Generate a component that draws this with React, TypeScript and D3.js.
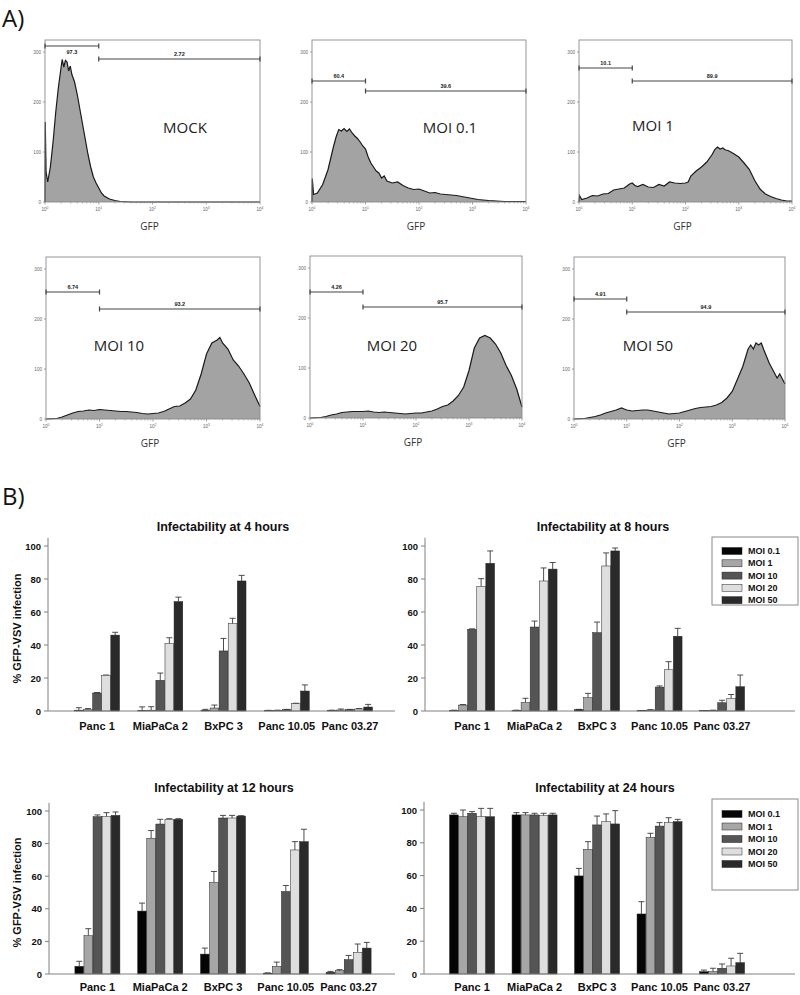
import React from "react";
import * as d3 from "d3";

// ---------- Panel A: flow cytometry histograms (log10 GFP, count) ----------
const histNames = ["MOCK", "MOI 0.1", "MOI 1", "MOI 10", "MOI 20", "MOI 50"];

const histMock: [number, number][] = [
  [0, 0], [0.005, 160], [0.02, 60], [0.05, 40], [0.1, 70], [0.15, 120], [0.2, 180], [0.25, 230],
  [0.3, 270], [0.32, 285], [0.35, 270], [0.38, 283], [0.41, 280], [0.44, 262], [0.47, 272],
  [0.5, 255], [0.55, 240], [0.6, 215], [0.65, 185], [0.7, 155], [0.75, 125], [0.8, 95],
  [0.85, 70], [0.9, 50], [0.95, 38], [1.0, 28], [1.05, 18], [1.1, 12], [1.2, 6], [1.3, 3],
  [1.4, 1], [1.6, 0], [4, 0],
];
const histMoi01: [number, number][] = [
  [0, 0], [0.005, 47], [0.03, 15], [0.1, 18], [0.2, 35], [0.3, 65], [0.4, 110], [0.45, 130],
  [0.5, 145], [0.55, 142], [0.6, 147], [0.65, 141], [0.7, 146], [0.75, 138], [0.8, 132],
  [0.85, 127], [0.9, 120], [0.95, 112], [1.0, 106], [1.05, 90], [1.1, 78], [1.15, 70],
  [1.2, 62], [1.25, 58], [1.3, 48], [1.35, 52], [1.4, 42], [1.5, 38], [1.6, 40], [1.7, 33],
  [1.8, 28], [1.9, 25], [2.0, 26], [2.1, 22], [2.2, 18], [2.3, 19], [2.4, 16], [2.5, 15],
  [2.7, 13], [2.9, 9], [3.1, 5], [3.3, 3], [3.6, 1], [4, 1],
];
const histMoi1: [number, number][] = [
  [0, 0], [0.01, 13], [0.05, 5], [0.15, 8], [0.25, 13], [0.35, 12], [0.45, 16], [0.55, 17],
  [0.65, 24], [0.75, 26], [0.85, 28], [0.95, 36], [1.0, 38], [1.05, 33], [1.1, 31], [1.2, 35],
  [1.3, 30], [1.4, 29], [1.5, 35], [1.6, 32], [1.7, 40], [1.8, 38], [1.9, 37], [2.0, 38],
  [2.05, 40], [2.1, 52], [2.2, 62], [2.3, 70], [2.4, 80], [2.5, 95], [2.55, 105], [2.6, 110],
  [2.65, 106], [2.7, 108], [2.75, 104], [2.8, 103], [2.9, 97], [3.0, 90], [3.1, 78], [3.2, 65],
  [3.3, 43], [3.4, 26], [3.5, 16], [3.6, 11], [3.7, 7], [3.8, 4], [3.9, 2], [4.0, 2],
];
const histMoi10: [number, number][] = [
  [0, 0], [0.2, 1], [0.3, 4], [0.4, 8], [0.5, 12], [0.6, 15], [0.7, 16], [0.8, 18], [0.9, 17],
  [1.0, 19], [1.1, 18], [1.2, 17], [1.3, 16], [1.4, 15], [1.5, 15], [1.6, 14], [1.7, 13],
  [1.8, 11], [1.9, 10], [2.0, 11], [2.1, 12], [2.2, 15], [2.3, 20], [2.4, 25], [2.5, 26],
  [2.6, 32], [2.7, 40], [2.8, 58], [2.9, 90], [3.0, 130], [3.1, 152], [3.2, 158], [3.25, 163],
  [3.3, 152], [3.4, 140], [3.5, 118], [3.6, 106], [3.7, 90], [3.8, 72], [3.9, 48], [4.0, 25],
];
const histMoi20: [number, number][] = [
  [0, 0], [0.2, 1], [0.3, 3], [0.4, 6], [0.5, 8], [0.6, 11], [0.7, 12], [0.8, 13], [0.9, 13],
  [1.0, 13], [1.1, 14], [1.2, 12], [1.3, 11], [1.4, 12], [1.5, 11], [1.6, 10], [1.7, 9],
  [1.8, 8], [1.9, 9], [2.0, 10], [2.1, 10], [2.2, 12], [2.3, 14], [2.4, 18], [2.5, 23],
  [2.6, 26], [2.7, 34], [2.8, 45], [2.9, 62], [3.0, 95], [3.1, 140], [3.2, 160], [3.3, 165],
  [3.4, 160], [3.5, 148], [3.6, 130], [3.7, 105], [3.8, 85], [3.9, 58], [3.95, 40], [4.0, 22],
];
const histMoi50: [number, number][] = [
  [0, 0], [0.2, 1], [0.3, 3], [0.4, 5], [0.5, 8], [0.6, 12], [0.7, 15], [0.8, 18], [0.9, 22],
  [0.95, 20], [1.0, 18], [1.1, 16], [1.2, 17], [1.3, 18], [1.4, 18], [1.5, 16], [1.6, 14],
  [1.7, 12], [1.8, 10], [1.9, 11], [2.0, 12], [2.1, 15], [2.2, 18], [2.3, 21], [2.4, 23],
  [2.5, 24], [2.6, 25], [2.7, 28], [2.8, 33], [2.9, 42], [3.0, 55], [3.1, 80], [3.2, 105],
  [3.3, 140], [3.35, 148], [3.4, 140], [3.45, 152], [3.5, 148], [3.55, 152], [3.6, 138],
  [3.7, 112], [3.8, 92], [3.85, 82], [3.9, 90], [3.95, 80], [4.0, 70],
];
const histSeries = [histMock, histMoi01, histMoi1, histMoi10, histMoi20, histMoi50];

// gate marker levels (in count units) and their percentages
const gateLevelNeg = [312, 242, 268, 254, 252, 240];
const gateLevelPos = [286, 222, 242, 220, 222, 214];
const gatePctNeg = ["97.3", "60.4", "10.1", "6.74", "4.26", "4.91"];
const gatePctPos = ["2.72", "39.6", "89.9", "93.2", "95.7", "94.9"];
const histYTicks = [0, 100, 200, 300];
const histXTicks = [0, 1, 2, 3, 4];

// ---------- Panel B: bar charts ----------
const categories = ["Panc 1", "MiaPaCa 2", "BxPC 3", "Panc 10.05", "Panc 03.27"];
const seriesNames = ["MOI 0.1", "MOI 1", "MOI 10", "MOI 20", "MOI 50"];
const seriesColors = ["#050505", "#a6a6a6", "#555555", "#dedede", "#2a2a2a"];
const barYTicks = [0, 20, 40, 60, 80, 100];

// rows = series (MOI 0.1 .. MOI 50), columns = categories
const values4h = [
  [0.5, 0.3, 0.5, 0.2, 0.3],
  [0.8, 0.5, 1.8, 0.3, 0.6],
  [10.9, 18.6, 36.4, 0.8, 0.8],
  [21.6, 40.8, 52.9, 4.4, 1.2],
  [46, 66.3, 78.8, 12.1, 2.4],
];
const errTop4h = [
  [2, 2.5, 1, 0.4, 0.5],
  [1.5, 2.6, 3.6, 0.5, 1.2],
  [11.2, 23, 44, 1, 1],
  [21.8, 44.4, 56.2, 4.7, 1.5],
  [47.7, 69, 82.2, 15.8, 4.0],
];
const values8h = [
  [0.3, 0.3, 0.8, 0.2, 0.2],
  [3.6, 5.1, 8.1, 0.6, 0.3],
  [49.5, 50.9, 47.5, 14.5, 5],
  [75.5, 78.8, 87.9, 25, 7.5],
  [89.5, 86, 97, 45.3, 14.7],
];
const errTop8h = [
  [0.5, 0.5, 1, 0.3, 0.3],
  [3.9, 7.7, 10.7, 0.8, 0.5],
  [49.8, 54.5, 53.9, 15.2, 6.5],
  [80.2, 86.7, 95.8, 29.9, 10],
  [97, 90, 98.8, 50.1, 21.8],
];
const values12h = [
  [4.7, 38.6, 12.2, 0.5, 1],
  [23.5, 83.3, 56.1, 4.7, 2],
  [96.5, 92, 95.7, 50.6, 8.8],
  [96.5, 94.9, 95.7, 76.1, 13.3],
  [97.3, 94.9, 96.9, 81.2, 15.9],
];
const errTop12h = [
  [7.8, 43.5, 15.9, 0.7, 1.6],
  [27.8, 88, 62.9, 7.3, 2.7],
  [97.6, 94.9, 97.3, 54.3, 11.4],
  [99, 95.3, 97.3, 81.2, 18.4],
  [99.4, 95.3, 97.1, 88.8, 19.4],
];
const values24h = [
  [97, 97, 59.8, 36.6, 1.4],
  [95.9, 97, 76, 83.3, 1.4],
  [98, 97, 90.9, 90.2, 3.5],
  [95.9, 96.5, 92.9, 92.3, 4.9],
  [95.9, 97, 91.5, 92.9, 6.9],
];
const errTop24h = [
  [98, 98.4, 64.4, 44.1, 2.4],
  [100, 98.4, 80.7, 85.8, 3.5],
  [99, 98, 96.3, 92.3, 6.1],
  [101, 98, 97.6, 95.3, 9.6],
  [101, 98, 99.6, 94.3, 12.6],
];

// ---------- layout ----------
const histLayout = [
  { left: 45, right: 260, base: 202, lx: 185, ly: 127, negBelow: true },
  { left: 312, right: 526, base: 202, lx: 450, ly: 127, negBelow: false },
  { left: 579, right: 792, base: 202, lx: 653, ly: 125, negBelow: false },
  { left: 46, right: 260, base: 419, lx: 119, ly: 345, negBelow: false },
  { left: 310, right: 522, base: 418, lx: 392, ly: 345, negBelow: false },
  { left: 574, right: 785, base: 419, lx: 648, ly: 345, negBelow: false },
];

const barLayouts = [
  { title: "Infectability at 4 hours", values: values4h, errs: errTop4h, axisX: 48, xEnd: 395, y0: 711, y100: 546, band: [65.4, 381.6], titleX: 223, titleY: 527, catY: 726, yLabel: true, legend: null as any },
  { title: "Infectability at 8 hours", values: values8h, errs: errTop8h, axisX: 425, xEnd: 795, y0: 711, y100: 546, band: [440.8, 753.3], titleX: 603, titleY: 527, catY: 726, yLabel: false, legend: { x: 712, y: 537, w: 86, h: 68, first: 551, step: 12.3 } },
  { title: "Infectability at 12 hours", values: values12h, errs: errTop12h, axisX: 49, xEnd: 395, y0: 974, y100: 811, band: [66, 380], titleX: 224, titleY: 788, catY: 987, yLabel: true, legend: null as any },
  { title: "Infectability at 24 hours", values: values24h, errs: errTop24h, axisX: 424, xEnd: 795, y0: 974, y100: 810, band: [440.8, 753.3], titleX: 605, titleY: 788, catY: 987, yLabel: false, legend: { x: 712, y: 799, w: 86, h: 91, first: 814, step: 12.5 } },
];

const SANS = "'Liberation Sans', Arial, sans-serif";
const OPEN = "'Open Sans', 'DejaVu Sans', sans-serif";

function Histogram({ i }: { i: number }) {
  const L = histLayout[i];
  const x = d3.scaleLinear().domain([0, 4]).range([L.left, L.right]);
  const y = d3.scaleLinear().domain([0, 324]).range([L.base, L.base - 162]);
  const data = histSeries[i];
  const area = d3.area<[number, number]>().x((d) => x(d[0])).y0(y(0)).y1((d) => y(d[1]));
  const line = d3.line<[number, number]>().x((d) => x(d[0])).y((d) => y(d[1]));
  const minor: number[] = [];
  for (let k = 0; k < 4; k++) for (let m = 2; m <= 9; m++) minor.push(k + Math.log10(m));
  const gNeg = y(gateLevelNeg[i]);
  const gPos = y(gateLevelPos[i]);
  const axisCol = "#8a8a8a";
  return (
    <g>
      <path d={area(data) || ""} fill="#a3a3a3" stroke="none" />
      <path d={line(data) || ""} fill="none" stroke="#1a1a1a" strokeWidth={1.2} />
      <rect x={L.left} y={y(324)} width={L.right - L.left} height={y(0) - y(324)} fill="none" stroke={axisCol} strokeWidth={0.9} />
      {histYTicks.map((t) => (
        <g key={t}>
          <line x1={L.left - 2} x2={L.left} y1={y(t)} y2={y(t)} stroke={axisCol} strokeWidth={0.8} />
          <text x={L.left - 4} y={y(t)} fontSize={4.6} fill="#666" textAnchor="end" dominantBaseline="central" fontFamily={SANS}>{t}</text>
        </g>
      ))}
      {histXTicks.map((t) => (
        <g key={t}>
          <line x1={x(t)} x2={x(t)} y1={y(0)} y2={y(0) + 2.5} stroke={axisCol} strokeWidth={0.8} />
          <text x={x(t)} y={y(0) + 9} fontSize={4.6} fill="#666" textAnchor="middle" fontFamily={SANS}>
            10<tspan dy={-2} fontSize={3.4}>{t}</tspan>
          </text>
        </g>
      ))}
      {minor.map((t, k) => (
        <line key={k} x1={x(t)} x2={x(t)} y1={y(0)} y2={y(0) + 1.5} stroke={axisCol} strokeWidth={0.6} />
      ))}
      {/* gates */}
      <g stroke="#444" strokeWidth={1.2}>
        <line x1={x(0)} x2={x(1)} y1={gNeg} y2={gNeg} />
        <line x1={x(0)} x2={x(0)} y1={gNeg - 2.5} y2={gNeg + 2.5} />
        <line x1={x(1)} x2={x(1)} y1={gNeg - 2.5} y2={gNeg + 2.5} />
        <line x1={x(1)} x2={x(4)} y1={gPos} y2={gPos} />
        <line x1={x(1)} x2={x(1)} y1={gPos - 2.5} y2={gPos + 2.5} />
        <line x1={x(4)} x2={x(4)} y1={gPos - 2.5} y2={gPos + 2.5} />
      </g>
      <text x={x(0.5)} y={L.negBelow ? gNeg + 8 : gNeg - 3} fontSize={5.5} fontWeight="bold" textAnchor="middle" fill="#222" fontFamily={SANS}>{gatePctNeg[i]}</text>
      <text x={x(2.5)} y={gPos - 3} fontSize={5.5} fontWeight="bold" textAnchor="middle" fill="#222" fontFamily={SANS}>{gatePctPos[i]}</text>
      <text x={(L.left + L.right) / 2 - 3} y={L.base + 24} fontSize={10} textAnchor="middle" dominantBaseline="central" fill="#333" fontFamily={OPEN}>GFP</text>
      <text x={L.lx} y={L.ly} fontSize={15} textAnchor="middle" dominantBaseline="central" fill="#222" fontFamily={OPEN}>{histNames[i]}</text>
    </g>
  );
}

function BarChart({ cfg }: { cfg: (typeof barLayouts)[number] }) {
  const y = d3.scaleLinear().domain([0, 100]).range([cfg.y0, cfg.y100]);
  const xb = d3.scaleBand<string>().domain(categories).range(cfg.band as [number, number]).paddingInner(0);
  const groupW = 45;
  const xs = d3.scaleBand<string>().domain(seriesNames).range([0, groupW]).paddingInner(0.04);
  const axisCol = "#808080";
  return (
    <g>
      <text x={cfg.titleX} y={cfg.titleY} fontSize={12.5} fontWeight="bold" textAnchor="middle" dominantBaseline="central" fill="#111" fontFamily={SANS}>{cfg.title}</text>
      {seriesNames.map((s, si) =>
        categories.map((c, ci) => {
          const gx = (xb(c) as number) + xb.bandwidth() / 2 - groupW / 2;
          const bx = gx + (xs(s) as number);
          const v = cfg.values[si][ci];
          const e = cfg.errs[si][ci];
          const cx = bx + xs.bandwidth() / 2;
          return (
            <g key={s + c}>
              {e > v + 0.05 && (
                <g stroke="#3a3a3a" strokeWidth={0.9}>
                  <line x1={cx} x2={cx} y1={y(v)} y2={y(e)} />
                  <line x1={cx - 3} x2={cx + 3} y1={y(e)} y2={y(e)} />
                </g>
              )}
              <rect x={bx} y={y(v)} width={xs.bandwidth()} height={Math.max(0, y(0) - y(v))} fill={seriesColors[si]} stroke="#222" strokeWidth={0.5} />
            </g>
          );
        })
      )}
      <line x1={cfg.axisX} x2={cfg.axisX} y1={y(105)} y2={y(0)} stroke={axisCol} strokeWidth={1} />
      <line x1={cfg.axisX} x2={cfg.xEnd} y1={y(0)} y2={y(0)} stroke={axisCol} strokeWidth={1} />
      {barYTicks.map((t) => (
        <g key={t}>
          <line x1={cfg.axisX - 4} x2={cfg.axisX} y1={y(t)} y2={y(t)} stroke={axisCol} strokeWidth={1} />
          <text x={cfg.axisX - 7} y={y(t)} fontSize={9.5} fontWeight="bold" textAnchor="end" dominantBaseline="central" fill="#111" fontFamily={SANS}>{t}</text>
        </g>
      ))}
      {categories.map((c) => (
        <text key={c} x={(xb(c) as number) + xb.bandwidth() / 2} y={cfg.catY} fontSize={11} fontWeight="bold" textAnchor="middle" dominantBaseline="central" fill="#111" fontFamily={SANS}>{c}</text>
      ))}
      {cfg.yLabel && (
        <text transform={`translate(17,${(y(0) + y(100)) / 2}) rotate(-90)`} fontSize={11} fontWeight="bold" textAnchor="middle" dominantBaseline="central" fill="#111" fontFamily={SANS}>% GFP-VSV infection</text>
      )}
      {cfg.legend && (
        <g>
          <rect x={cfg.legend.x} y={cfg.legend.y} width={cfg.legend.w} height={cfg.legend.h} fill="#fff" stroke="#8a8a8a" strokeWidth={1} />
          {seriesNames.map((s, si) => {
            const ly = cfg.legend.first + si * cfg.legend.step;
            return (
              <g key={s}>
                <rect x={cfg.legend.x + 10} y={ly - 3.5} width={20} height={7} fill={seriesColors[si]} stroke="#222" strokeWidth={0.5} />
                <text x={cfg.legend.x + 36} y={ly} fontSize={9} fontWeight="bold" dominantBaseline="central" fill="#111" fontFamily={SANS}>{s}</text>
              </g>
            );
          })}
        </g>
      )}
    </g>
  );
}

export default function App() {
  return (
    <svg width={800} height={995} viewBox="0 0 800 995" style={{ position: "absolute", left: 0, top: 0, background: "#fff" }}>
      <rect width={800} height={995} fill="#fff" />
      <text x={2} y={27} fontSize={24} fill="#111" fontFamily={OPEN}>A)</text>
      <text x={2} y={505} fontSize={24} fill="#111" fontFamily={OPEN}>B)</text>
      {histNames.map((_, i) => (
        <Histogram key={i} i={i} />
      ))}
      {barLayouts.map((cfg, i) => (
        <BarChart key={i} cfg={cfg} />
      ))}
    </svg>
  );
}
